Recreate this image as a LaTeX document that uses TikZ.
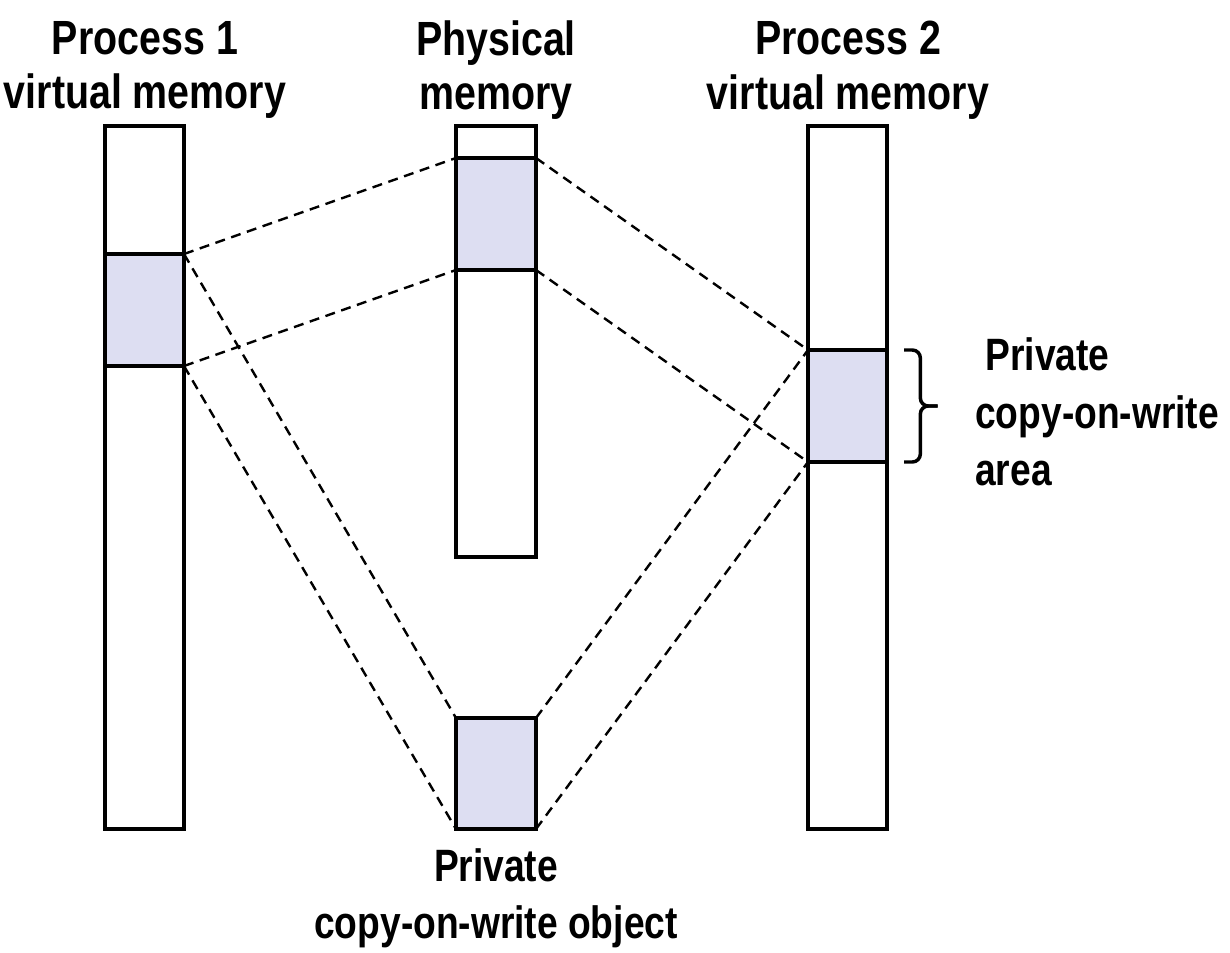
\documentclass[tikz,border=0pt]{standalone}
\usepackage{fontspec}
\setmainfont[FakeStretch=0.82]{Liberation Sans}
\usetikzlibrary{fit}
\definecolor{areafill}{RGB}{221,222,242}

\begin{document}
\begin{tikzpicture}[x=0.75pt, y=-0.75pt,
    mem/.style={draw, line width=2.4pt, inner sep=0pt, outer sep=0pt},
    area/.style={mem, fill=areafill},
    map/.style={dash pattern=on 7.5pt off 5pt, line width=1.8pt},
    lbl/.style={font=\fontsize{34}{43}\selectfont\bfseries, inner sep=0pt},
    head/.style={font=\fontsize{36}{41}\selectfont\bfseries, inner sep=0pt, align=center}]
    \useasboundingbox (0,0) rectangle (1230,952);

    % memories and their areas
    \node [mem, fit={(105,126) (184,829)}] (p1) {};
    \node [mem, fit={(456,126) (536,557)}] (pm) {};
    \node [mem, fit={(808,126) (887,829)}] (p2) {};
    \node [area, fit={(105,254) (184,366)}] (p1a) {};
    \node [area, fit={(456,158) (536,270)}] (pma) {};
    \node [area, fit={(808,350) (887,462)}] (p2a) {};
    \node [area, fit={(456,718) (536,829)}] (obj) {};

    \draw [map] (p1a.north east) -- (pma.north west);
    \draw [map] (p1a.south east) -- (pma.south west);
    \draw [map] (pma.north east) -- (p2a.north west);
    \draw [map] (pma.south east) -- (p2a.south west);
    \draw [map] (p1a.north east) -- (obj.north west);
    \draw [map] (p1a.south east) -- (obj.south west);
    \draw [map] (obj.north east) -- (p2a.north west);
    \draw [map] (obj.south east) -- (p2a.south west);

    % brace
    \coordinate (tip) at ([xshift=38pt]p2a.east);
    \draw [line width=2.6pt, rounded corners=6pt]
      ([xshift=12.75pt]p2a.north east) -| ([xshift=-13pt]tip.center) -- (tip);
    \draw [line width=2.6pt, rounded corners=6pt]
      ([xshift=12.75pt]p2a.south east) -| ([xshift=-13pt]tip.center) -- (tip);

    \node [head] (t1) at (145,70) {Process 1\\virtual memory};
    \node [head] (tm) at (496,70) {Physical\\memory};
    \node [head] (t2) at (848,70) {Process 2\\virtual memory};
    \node [lbl, align=left, anchor=west] (ta) at (975,412) {\ Private\\copy-on-write\\area};
    \node [lbl, align=center] (to) at (496,898) {Private\\copy-on-write object};
  \end{tikzpicture}
\end{document}
